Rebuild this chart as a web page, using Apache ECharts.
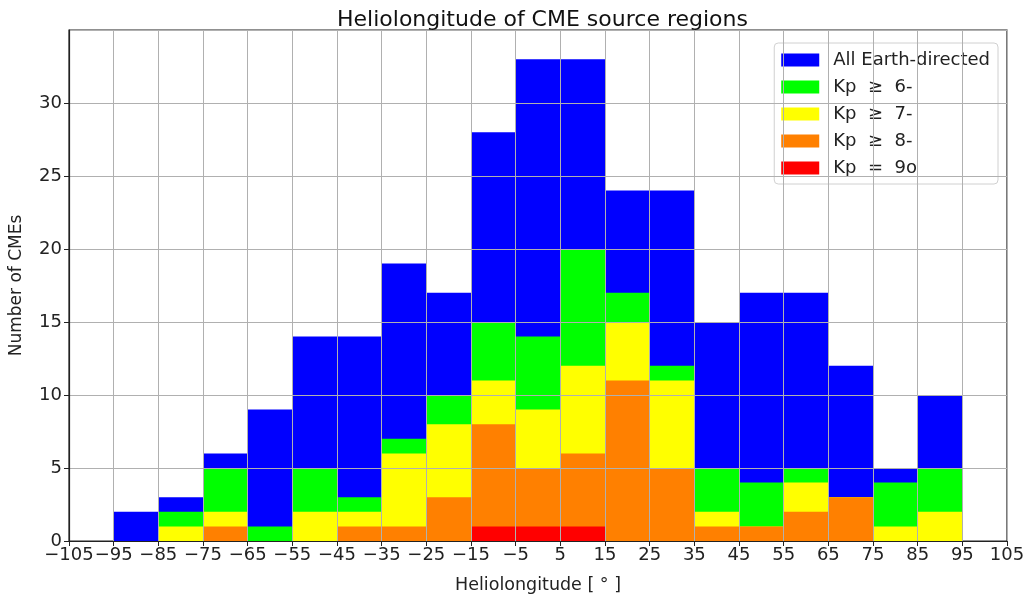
<!DOCTYPE html>
<html>
<head>
<meta charset="utf-8">
<script src="https://cdn.jsdelivr.net/npm/echarts@6/dist/echarts.min.js"></script>
<style>html,body{margin:0;padding:0;background:#fff}#c{width:1029px;height:599px}</style>
</head>
<body>
<div id="c"></div>
<script>
var binStarts = [-95,-85,-75,-65,-55,-45,-35,-25,-15,-5,5,15,25,35,45,55,65,75,85];
var binWidth = 10;
var seriesNames = ['All Earth-directed', 'Kp \u00a0\u2265\u00a0 6-', 'Kp \u00a0\u2265\u00a0 7-', 'Kp \u00a0\u2265\u00a0 8-', 'Kp \u00a0=\u00a0 9o'];
var allEarth = [2,3,6,9,14,14,19,17,28,33,33,24,24,15,17,17,12,5,10];
var kp6 = [0,2,5,1,5,3,7,10,15,14,20,17,12,5,4,5,3,4,5];
var kp7 = [0,1,2,0,2,2,6,8,11,9,12,15,11,2,1,4,3,1,2];
var kp8 = [0,0,1,0,0,1,1,3,8,5,6,11,5,1,1,2,3,0,0];
var kp9 = [0,0,0,0,0,0,0,0,1,1,1,0,0,0,0,0,0,0,0];
var colors = ['#0000ff', '#00ff00', '#ffff00', '#ff8000', '#ff0000'];
var xTicksMin = -105, xTicksMax = 105, xTickStep = 10;
var yMax = 35, yStep = 5;

var valueSets = [allEarth, kp6, kp7, kp8, kp9];

function renderItem(params, api) {
  var x0 = api.value(0), x1 = api.value(1), v = api.value(2);
  var p0 = api.coord([x0, 0]);
  var p1 = api.coord([x1, v]);
  return {
    type: 'rect',
    shape: { x: p0[0], y: p1[1], width: p1[0] - p0[0], height: p0[1] - p1[1] },
    style: { fill: api.visual('color') }
  };
}

var series = valueSets.map(function (vals, i) {
  return {
    name: seriesNames[i],
    type: 'custom',
    renderItem: renderItem,
    itemStyle: { color: colors[i] },
    encode: { x: [0, 1], y: 2 },
    data: vals.map(function (v, j) { return [binStarts[j], binStarts[j] + binWidth, v]; }),
    z: 2 + i
  };
});

var font = 'DejaVu Sans';
var chart = echarts.init(document.getElementById('c'));
chart.setOption({
  animation: false,
  textStyle: { fontFamily: font },
  title: {
    text: 'Heliolongitude of CME source regions',
    left: 332, top: 4,
    textStyle: { fontFamily: font, fontSize: 22, fontWeight: 'normal', color: '#111' }
  },
  grid: { left: 68, right: 22, top: 30, bottom: 56, show: true, borderColor: '#222', borderWidth: 1.2, backgroundColor: 'transparent' },
  legend: {
    orient: 'vertical', right: 31, top: 43,
    data: seriesNames,
    itemWidth: 38, itemHeight: 13, itemGap: 9,
    icon: 'rect',
    formatter: function (n) { return '\u2002' + n; },
    backgroundColor: 'rgba(255,255,255,0.8)',
    borderColor: '#d0d0d0', borderWidth: 1, borderRadius: 4,
    padding: [8, 8, 7, 7],
    textStyle: { fontFamily: font, fontSize: 18, color: '#222' }
  },
  xAxis: {
    type: 'value', min: xTicksMin, max: xTicksMax, interval: xTickStep,
    z: 10,
    name: 'Heliolongitude [ \u00b0 ]', nameLocation: 'middle', nameGap: 35,
    nameTextStyle: { fontFamily: font, fontSize: 17.5, color: '#222' },
    axisLine: { show: true, onZero: false, lineStyle: { color: '#222', width: 1.2 } },
    axisTick: { show: true, length: 5, lineStyle: { color: '#222' } },
    axisLabel: { fontFamily: font, fontSize: 18, color: '#222', margin: 5,
      formatter: function (v) { return String(v).replace('-', '\u2212'); } },
    splitLine: { show: true, lineStyle: { color: '#b0b0b0', width: 1 } }
  },
  yAxis: {
    type: 'value', min: 0, max: yMax, interval: yStep,
    z: 10,
    name: 'Number of CMEs', nameLocation: 'middle', nameGap: 44,
    nameTextStyle: { fontFamily: font, fontSize: 17, color: '#222' },
    axisLine: { show: true, onZero: false, lineStyle: { color: '#222', width: 1.2 } },
    axisTick: { show: true, length: 5, lineStyle: { color: '#222' } },
    axisLabel: { fontFamily: font, fontSize: 18, color: '#222', margin: 7, showMaxLabel: false },
    splitLine: { show: true, lineStyle: { color: '#b0b0b0', width: 1 } }
  },
  series: series
});
</script>
</body>
</html>
